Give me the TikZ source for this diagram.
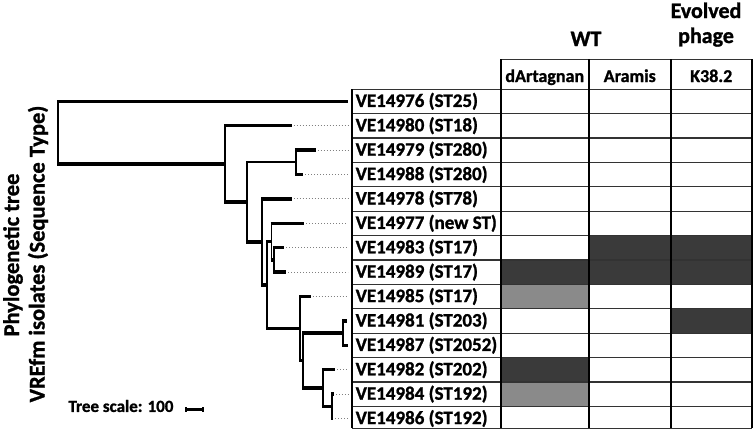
\documentclass[tikz,border=0pt]{standalone}
\usepackage{fontspec}
\setmainfont{Carlito}[BoldFeatures={FakeBold=1.2}]
\definecolor{cellDark}{RGB}{58,58,58}
\definecolor{cellLight}{RGB}{138,138,138}
\begin{document}
\begin{tikzpicture}[x=1pt,y=-1pt,
  lab/.style={anchor=west, font=\fontsize{19}{22}\selectfont\bfseries, inner sep=0pt},
  hdr/.style={font=\fontsize{18}{21}\selectfont\bfseries, inner sep=0pt, anchor=base},
  big/.style={font=\fontsize{22}{26}\selectfont\bfseries, inner sep=0pt, anchor=base},
  side/.style={font=\fontsize{22.5}{26}\selectfont\bfseries, inner sep=0pt, rotate=90},
  scaletxt/.style={font=\fontsize{17}{20}\selectfont\bfseries, inner sep=0pt},
  hbr/.style={line width=3.5pt},
  vbr/.style={line width=1.8pt},
  leader/.style={gray, line width=0.9pt, dash pattern=on 1pt off 2pt},
  gridh/.style={line width=1.2pt, black!80},
  gridv/.style={line width=2pt, black},
  darkcell/.style={fill=cellDark},
  lightcell/.style={fill=cellLight}
]
\useasboundingbox (0,0) rectangle (753,429);

% ---------- table geometry ----------
\def\cA{352}\def\cB{501}\def\cC{588.5}\def\cD{671}\def\cE{751.5}
\def\htop{59.1}\def\tzero{89.1}\def\rh{24.4}\def\tbot{428.3}

% filled cells (row index, column)
\foreach \r/\ca/\cb/\st in {6/\cC/\cE/darkcell, 7/\cB/\cE/darkcell, 8/\cB/\cC/lightcell,
   9/\cD/\cE/darkcell, 11/\cB/\cC/darkcell, 12/\cB/\cC/lightcell}{
  \pgfmathsetmacro\ya{\tzero+\rh*\r}
  \pgfmathsetmacro\yb{min(\tzero+\rh*(\r+1),\tbot)}
  \path[\st] (\ca,\ya) rectangle (\cb,\yb);
}

% grid lines
\foreach \r in {0,...,13}{
  \pgfmathsetmacro\yy{\tzero+\rh*\r}
  \draw[gridh] (\cA,\yy) -- (\cE,\yy);
}
\draw[gridh] (\cA,\tbot) -- (\cE,\tbot);
\draw[gridh] (\cB,\htop) -- (\cE,\htop);
\draw[gridv] (\cA,\tzero) -- (\cA,\tbot);
\foreach \cx in {\cB,\cC,\cD,\cE}{
  \draw[gridv] (\cx,\htop) -- (\cx,\tbot);
}

% header texts
\node[hdr] (hd1) at ({(\cB+\cC)/2},82) {dArtagnan};
\node[hdr] (hd2) at ({(\cC+\cD)/2},82) {Aramis};
\node[hdr] (hd3) at ({(\cD+\cE)/2},82) {K38.2};
\node[big] (wt) at (586,46) {WT};
\node[big] (evo) at (706,18) {Evolved};
\node[big] (pha) at (706,43) {phage};

% row labels
\foreach \i/\t in {0/VE14976 (ST25),1/VE14980 (ST18),2/VE14979 (ST280),3/VE14988 (ST280),
  4/VE14978 (ST78),5/VE14977 (new ST),6/VE14983 (ST17),7/VE14989 (ST17),8/VE14985 (ST17),
  9/VE14981 (ST203),10/VE14987 (ST2052),11/VE14982 (ST202),12/VE14984 (ST192),13/VE14986 (ST192)}{
  \node[lab] (lab\i) at (355.5,{101.3+\rh*\i}) {\t};
}

% ---------- tree ----------
\coordinate (tbl) at (348,0);
\foreach \i/\xe in {0/348,1/291.7,2/315.7,3/303.3,4/291.7,5/304.3,6/284.3,7/286,
  8/310.7,9/346.7,10/348.3,11/335,12/333.8,13/333}{
  \coordinate (L\i) at (\xe,{101.3+\rh*\i});
}
\coordinate (nR) at (58,132.6);
\coordinate (nA) at (225,163.9);
\coordinate (nB) at (247,202.15);
\coordinate (nC) at (295.7,162.3);
\coordinate (nD) at (262,242);
\coordinate (nX) at (266.7,285.05);
\coordinate (nE) at (271.5,241.6);
\coordinate (nF) at (274,259.9);
\coordinate (nG) at (300,328.5);
\coordinate (nK) at (303.3,360.55);
\coordinate (nH) at (343.3,333.1);
\coordinate (nI) at (322.7,388);
\coordinate (nJ) at (331.7,406.3);

% leaders
\foreach \i in {1,2,3,4,5,6,7,8,11,12,13}{
  \draw[leader] ([xshift=2pt]L\i) -- (L\i -| tbl);
}

\foreach \p/\c in {nR/L0,nR/nA,nA/L1,nA/nB,nB/nD,nC/L2,nC/L3,nD/L4,nD/nX,
  nX/nE,nX/nG,nE/L5,nE/nF,nF/L6,nF/L7,nG/L8,nG/nK,nK/nH,nK/nI,nH/L9,nH/L10,
  nI/L11,nI/nJ,nJ/L12,nJ/L13}{
  \draw[vbr] (\p) -- (\p |- \c);
  \draw[hbr] ([xshift=-0.9pt]\p |- \c) -- (\c);
}
\draw[vbr] (nB) -- (nB |- nC);
\draw[vbr] ([xshift=-0.9pt]nB |- nC) -- (nC);

% side title
\node[side] (t1) at (13,255) {Phylogenetic tree};
\node[side] (t2) at (38,254) {VREfm isolates (Sequence Type)};

% tree scale
\node[scaletxt] (ts) at (121,406) {Tree scale: 100};
\coordinate (sb1) at (186,409);
\coordinate (sb2) at (203,409);
\draw[line width=3pt] (sb1) -- (sb2);
\draw[line width=2.2pt] ([yshift=-2.5pt]sb1) -- ([yshift=2.5pt]sb1);
\draw[line width=2.2pt] ([yshift=-2.5pt]sb2) -- ([yshift=2.5pt]sb2);
\end{tikzpicture}
\end{document}
